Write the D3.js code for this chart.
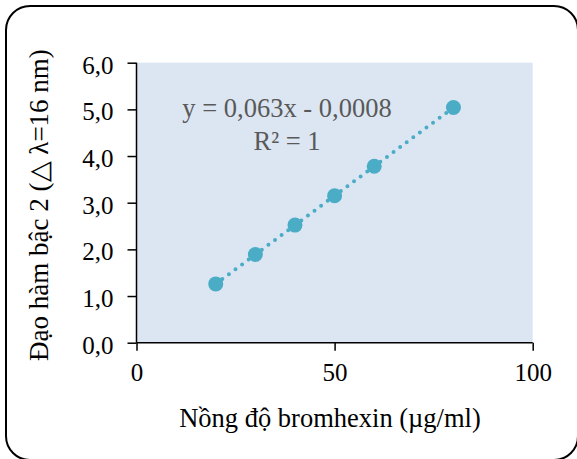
<!DOCTYPE html>
<html><head><meta charset="utf-8">
<script src="https://cdn.jsdelivr.net/npm/d3@7"></script>
<style>
html,body{margin:0;padding:0;background:#fff;}
svg{display:block;}
text{font-family:"Liberation Serif","Times New Roman",serif;}
</style></head>
<body>
<script>
const concentrations = [20, 30, 40, 50, 60, 80];
const derivativeValues = [1.26, 1.89, 2.52, 3.15, 3.78, 5.04];
const xTicks = [0, 50, 100];
const yTicks = [0, 1, 2, 3, 4, 5, 6];
const xTitle = "Nồng độ bromhexin (µg/ml)";
const yTitle = "Đạo hàm bậc 2 (△ λ=16 nm)";
const equationLines = ["y = 0,063x - 0,0008", "R² = 1"];
const trendSlope = 0.063, trendIntercept = -0.0008;

(function () {
const W = 577, H = 459;
const serif = "'Liberation Serif','Times New Roman',serif";
const svg = d3.select("body").append("svg").attr("width", W).attr("height", H);

svg.append("rect").attr("x", 6).attr("y", 6).attr("width", 572).attr("height", 454)
  .attr("rx", 24).attr("ry", 24).attr("fill", "#fff").attr("stroke", "#000").attr("stroke-width", 2);

const pL = 136.5, pR = 532.7, pT = 62.7, pB = 342.7;
const x = d3.scaleLinear().domain([0, 100]).range([pL, pR]);
const y = d3.scaleLinear().domain([0, 6]).range([pB, pT]);

svg.append("rect").attr("x", pL).attr("y", pT).attr("width", pR - pL).attr("height", pB - pT)
  .attr("fill", "#dce6f2");

const fmt = d => d3.format(".1f")(d).replace(".", ",");

const yAxis = svg.append("g").attr("transform", `translate(${pL},0)`)
  .call(d3.axisLeft(y).tickValues(yTicks).tickFormat(fmt).tickSize(9).tickPadding(14));
const xAxis = svg.append("g").attr("transform", `translate(0,${pB})`)
  .call(d3.axisBottom(x).tickValues(xTicks).tickFormat(d3.format("d")).tickSize(8).tickPadding(13));
[yAxis, xAxis].forEach(g => {
  g.attr("font-family", serif).attr("font-size", 25);
  g.select(".domain").attr("stroke", "#000").attr("stroke-width", 1.5);
  g.selectAll(".tick line").attr("stroke", "#000").attr("stroke-width", 1.5);
  g.selectAll(".tick text").attr("font-size", 25).attr("fill", "#000").attr("font-family", serif);
});
yAxis.selectAll(".tick text").attr("dy", "0.42em");
yAxis.select(".domain").attr("d", `M0,${pT}V${pB}`);
xAxis.select(".domain").attr("d", `M${pL},0H${pR}`);

const x0 = d3.min(concentrations), x1 = d3.max(concentrations);
svg.append("line")
  .attr("x1", x(x0)).attr("y1", y(trendSlope * x0 + trendIntercept))
  .attr("x2", x(x1)).attr("y2", y(trendSlope * x1 + trendIntercept))
  .attr("stroke", "#4bacc6").attr("stroke-width", 4).attr("stroke-linecap", "round")
  .attr("stroke-dasharray", "0 8.2");

svg.selectAll("circle.pt").data(concentrations).enter().append("circle")
  .attr("class", "pt")
  .attr("cx", d => x(d)).attr("cy", (d, i) => y(derivativeValues[i]))
  .attr("r", 7.5).attr("fill", "#4bacc6");

const eq = svg.append("text").attr("text-anchor", "middle").attr("fill", "#595959").attr("font-size", 26.5);
eq.selectAll("tspan").data(equationLines).enter().append("tspan")
  .attr("x", 287).attr("y", (d, i) => 117 + i * 33).text(d => d);

svg.append("text").attr("x", 330).attr("y", 427).attr("text-anchor", "middle")
  .attr("font-size", 26.5).attr("fill", "#000").text(xTitle);

svg.append("text").attr("transform", `translate(48,205) rotate(-90)`)
  .attr("text-anchor", "middle").attr("font-size", 27).attr("fill", "#000").text(yTitle);
})();
</script>
</body></html>
